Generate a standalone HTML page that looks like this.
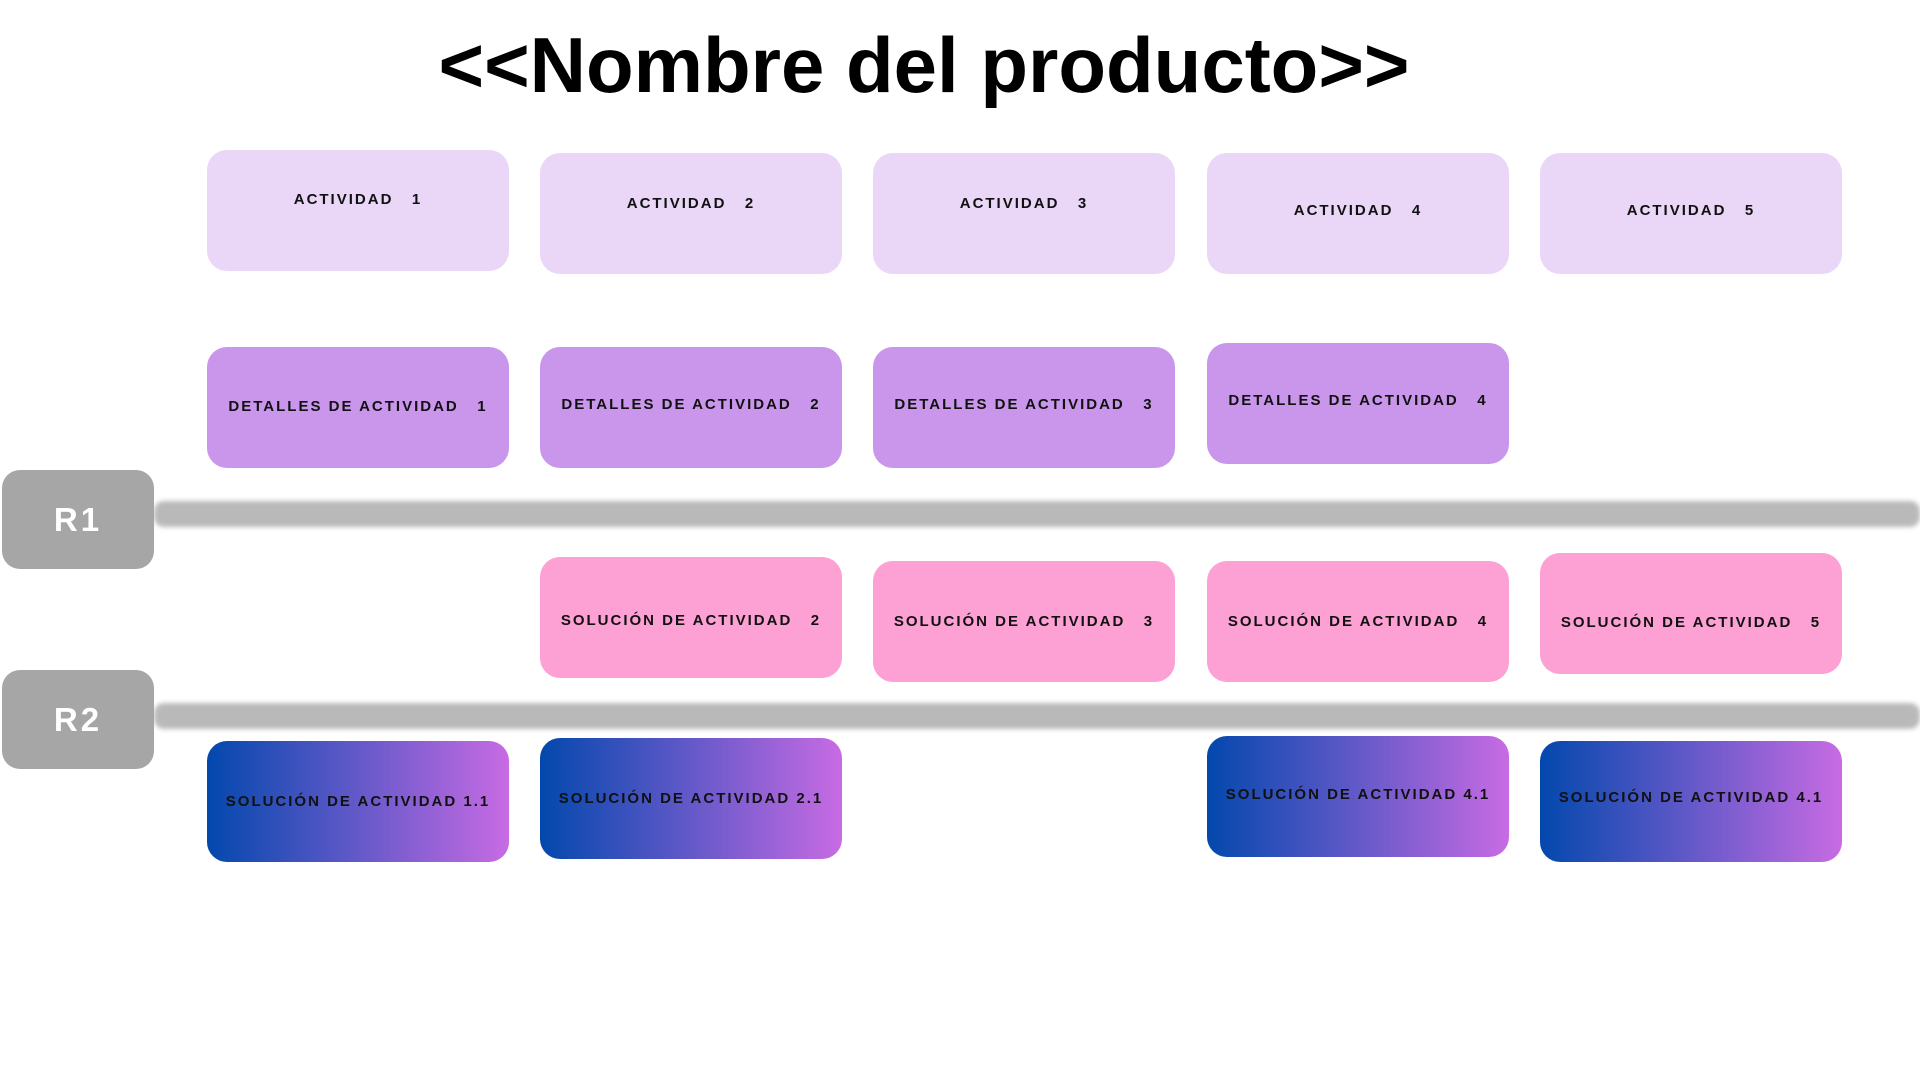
<!DOCTYPE html>
<html><head><meta charset="utf-8"><style>
body{margin:0;width:1920px;height:1080px;background:#fff;position:relative;overflow:hidden;font-family:"Liberation Sans",sans-serif}
.t{position:absolute;left:0;width:1848px;top:20px;text-align:center;font-size:78px;font-weight:bold;color:#000}
.b{position:absolute;width:302px;height:121px;border-radius:20px;display:flex;align-items:center;justify-content:center;font-weight:bold;font-size:15px;letter-spacing:2px;color:#111;white-space:pre;box-sizing:border-box}
.a{background:#ead7f7}.d{background:#c996ec}.s{background:#fda0d4}
.g{background:linear-gradient(90deg,#0348ad,#5a57c6 45%,#c86be3)}
.r{position:absolute;left:2px;width:152px;height:99px;border-radius:18px;background:#a6a6a6;color:#fff;font-weight:bold;font-size:33px;letter-spacing:3px;display:flex;align-items:center;justify-content:center}
.l{position:absolute;left:154px;width:1766px;height:26px;background:#a8a8a8;opacity:.8;filter:blur(2.5px);border-radius:10px}
</style></head><body>
<div class="t">&lt;&lt;Nombre del producto&gt;&gt;</div>

<div class="b a" style="left:207px;top:150px;padding-bottom:22px">ACTIVIDAD   1</div>
<div class="b a" style="left:540px;top:153px;padding-bottom:20px">ACTIVIDAD   2</div>
<div class="b a" style="left:873px;top:153px;padding-bottom:20px">ACTIVIDAD   3</div>
<div class="b a" style="left:1207px;top:153px;padding-bottom:6px">ACTIVIDAD   4</div>
<div class="b a" style="left:1540px;top:153px;padding-bottom:6px">ACTIVIDAD   5</div>

<div class="b d" style="left:207px;top:347px;padding-bottom:2px">DETALLES DE ACTIVIDAD   1</div>
<div class="b d" style="left:540px;top:347px;padding-bottom:6px">DETALLES DE ACTIVIDAD   2</div>
<div class="b d" style="left:873px;top:347px;padding-bottom:6px">DETALLES DE ACTIVIDAD   3</div>
<div class="b d" style="left:1207px;top:343px;padding-bottom:6px">DETALLES DE ACTIVIDAD   4</div>

<div class="l" style="top:501px"></div>
<div class="r" style="top:470px">R1</div>

<div class="b s" style="left:540px;top:557px;padding-top:6px">SOLUCIÓN DE ACTIVIDAD   2</div>
<div class="b s" style="left:873px;top:561px">SOLUCIÓN DE ACTIVIDAD   3</div>
<div class="b s" style="left:1207px;top:561px">SOLUCIÓN DE ACTIVIDAD   4</div>
<div class="b s" style="left:1540px;top:553px;padding-top:18px">SOLUCIÓN DE ACTIVIDAD   5</div>

<div class="l" style="top:703px"></div>
<div class="r" style="top:670px">R2</div>

<div class="b g" style="left:207px;top:741px">SOLUCIÓN DE ACTIVIDAD 1.1</div>
<div class="b g" style="left:540px;top:738px">SOLUCIÓN DE ACTIVIDAD 2.1</div>
<div class="b g" style="left:1207px;top:736px;padding-bottom:4px">SOLUCIÓN DE ACTIVIDAD 4.1</div>
<div class="b g" style="left:1540px;top:741px;padding-bottom:8px">SOLUCIÓN DE ACTIVIDAD 4.1</div>
</body></html>
